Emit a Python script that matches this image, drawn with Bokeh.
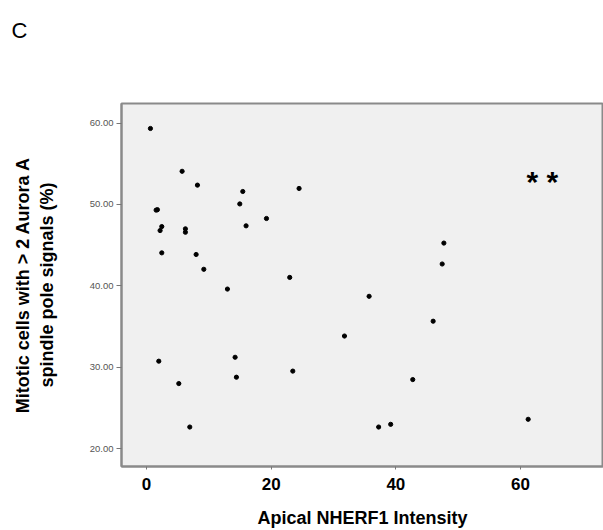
from bokeh.plotting import figure
from bokeh.models import Range1d, FixedTicker, NumeralTickFormatter, Label, ColumnDataSource, Title
from bokeh.embed import file_html
from bokeh.resources import INLINE

# Data
nherf1_intensity = [0.64, 5.72, 8.18, 15.45, 14.97, 15.98, 1.55, 1.76, 2.46, 2.19,
                    2.46, 6.25, 6.25, 7.97, 9.20, 12.99, 1.98, 5.19, 6.95, 14.22,
                    14.43, 24.48, 19.25, 22.98, 35.71, 45.98, 31.76, 23.47, 42.71, 37.24,
                    39.17, 47.70, 47.43, 61.22]
aurora_pct = [59.33, 54.07, 52.37, 51.59, 50.06, 47.37, 49.30, 49.35, 47.28, 46.79,
              44.05, 47.00, 46.58, 43.85, 42.03, 39.60, 30.74, 27.99, 22.65, 31.22,
              28.77, 51.96, 48.27, 41.03, 38.71, 35.65, 33.83, 29.52, 28.48, 22.65,
              22.98, 45.25, 42.68, 23.60]
x_ticks = [0, 20, 40, 60]
y_ticks = [20, 30, 40, 50, 60]
panel_letter = "C"
significance = "* *"

src = ColumnDataSource(dict(x=nherf1_intensity, y=aurora_pct))

p = figure(width=603, height=530, output_backend="svg", toolbar_location=None,
           x_range=Range1d(-4.0, 73.3), y_range=Range1d(17.8, 62.4),
           min_border_left=121, min_border_top=103, min_border_right=0, min_border_bottom=10)

# panel letter: extra blank lines lift it into the top-left corner
p.title = Title(text=panel_letter + "\n \n ", align="left", offset=-110, standoff=21,
                vertical_align="bottom",
                text_font="Liberation Sans", text_font_size="22px",
                text_font_style="normal", text_color="black")

p.background_fill_color = "#f0f0f0"
p.border_fill_color = "white"
p.outline_line_color = "#8a8a8a"
p.outline_line_width = 2
p.xgrid.visible = False
p.ygrid.visible = False

p.scatter("x", "y", source=src, size=4.2, color="black")

# axes
p.xaxis.ticker = FixedTicker(ticks=x_ticks)
p.yaxis.ticker = FixedTicker(ticks=y_ticks)
p.yaxis.formatter = NumeralTickFormatter(format="0.00")

p.xaxis.axis_label = "Apical NHERF1 Intensity"
p.yaxis.axis_label = "Mitotic cells with > 2 Aurora A\nspindle pole signals (%)"

for ax in (p.xaxis, p.yaxis):
    ax.axis_line_color = "#8a8a8a"
    ax.axis_line_width = 2
    ax.major_tick_line_color = "#777777"
    ax.minor_tick_line_color = None
    ax.major_tick_in = 0
    ax.axis_label_text_font = "Liberation Sans"
    ax.axis_label_text_font_style = "bold"
    ax.axis_label_text_color = "black"
    ax.major_label_text_font = "Liberation Sans"

p.xaxis.major_tick_out = 3
p.xaxis.major_label_text_font_size = "17px"
p.xaxis.major_label_text_font_style = "bold"
p.xaxis.major_label_text_color = "black"
p.xaxis.major_label_standoff = 8
p.xaxis.axis_label_text_font_size = "18px"
p.xaxis.axis_label_standoff = 15

p.yaxis.major_tick_out = 5
p.yaxis.major_label_text_font_size = "9.5px"
p.yaxis.major_label_text_color = "#555555"
p.yaxis.major_label_standoff = 3
p.yaxis.axis_label_text_font_size = "18px"
p.yaxis.axis_label_standoff = 30

p.add_layout(Label(x=63.5, y=52.8, text=significance, text_font="Liberation Sans",
                   text_font_size="30px", text_font_style="bold", text_align="center",
                   text_baseline="middle", text_color="black"))

open("out.html", "w").write(file_html(p, INLINE))
